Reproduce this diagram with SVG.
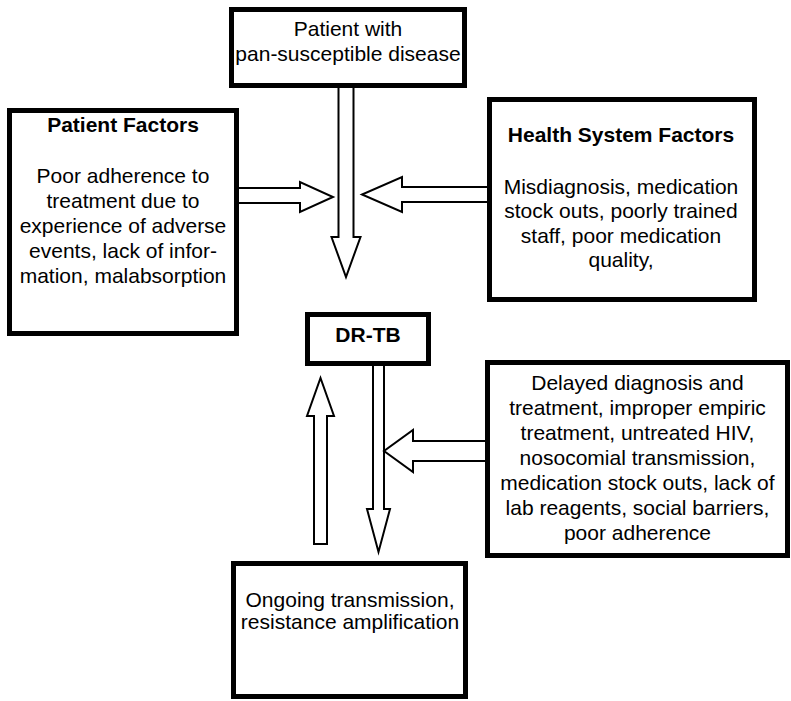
<svg xmlns="http://www.w3.org/2000/svg" width="791" height="701" viewBox="0 0 791 701">
<style>
.box{fill:#fff;stroke:#000;stroke-width:5}
.arr{fill:#fff;stroke:#000;stroke-width:2;stroke-linejoin:miter}
text{font-family:"Liberation Sans",Arial,sans-serif;font-size:21px;fill:#000;text-anchor:middle}
.b{font-weight:bold}
</style>
<rect width="791" height="701" fill="#fff"/>
<g id="connectors">
<polygon class="arr" points="338.5,87 353.5,87 353.5,237 360.5,237 346,277 331.5,237 338.5,237"/>
<polygon class="arr" points="238,188 300,188 300,182 333,197 300,212 300,203 238,203"/>
<polygon class="arr" points="488,187 402,187 402,177 362,194.5 402,212 402,202 488,202"/>
<polygon class="arr" points="373,365 384,365 384,509 390,509 378.5,552 367,509 373,509"/>
<polygon class="arr" points="314,544 327,544 327,416 334,416 320.5,378 307,416 314,416"/>
<polygon class="arr" points="486,441 413,441 413,430 384,451 413,472 413,461 486,461"/>
</g>
<g id="patient">
<rect class="box" x="231.5" y="9.5" width="233" height="76"/>
<text x="348" y="36">Patient with</text>
<text x="348" y="61">pan-susceptible disease</text>
</g>
<g id="patient-factors">
<rect class="box" x="9.5" y="110.5" width="227" height="223"/>
<text class="b" x="123" y="132">Patient Factors</text>
<text x="123" y="183">Poor adherence to</text>
<text x="123" y="208">treatment due to</text>
<text x="123" y="233">experience of adverse</text>
<text x="123" y="258">events, lack of infor-</text>
<text x="123" y="283">mation, malabsorption</text>
</g>
<g id="health-system">
<rect class="box" x="489.5" y="99.5" width="265" height="200"/>
<text class="b" x="621" y="142">Health System Factors</text>
<text x="621" y="193.5">Misdiagnosis, medication</text>
<text x="621" y="218">stock outs, poorly trained</text>
<text x="621" y="242.5">staff, poor medication</text>
<text x="621" y="267">quality,</text>
</g>
<g id="drtb">
<rect class="box" x="307.5" y="314.5" width="121" height="49"/>
<text class="b" x="368" y="342">DR-TB</text>
</g>
<g id="amplifiers">
<rect class="box" x="487.5" y="362.5" width="300" height="193"/>
<text x="637.5" y="390">Delayed diagnosis and</text>
<text x="637.5" y="415">treatment, improper empiric</text>
<text x="637.5" y="440">treatment, untreated HIV,</text>
<text x="637.5" y="465">nosocomial transmission,</text>
<text x="637.5" y="490">medication stock outs, lack of</text>
<text x="637.5" y="515">lab reagents, social barriers,</text>
<text x="637.5" y="540">poor adherence</text>
</g>
<g id="outcome">
<rect class="box" x="233.5" y="563.5" width="232" height="133"/>
<text x="350" y="607">Ongoing transmission,</text>
<text x="350" y="629">resistance amplification</text>
</g>
</svg>
